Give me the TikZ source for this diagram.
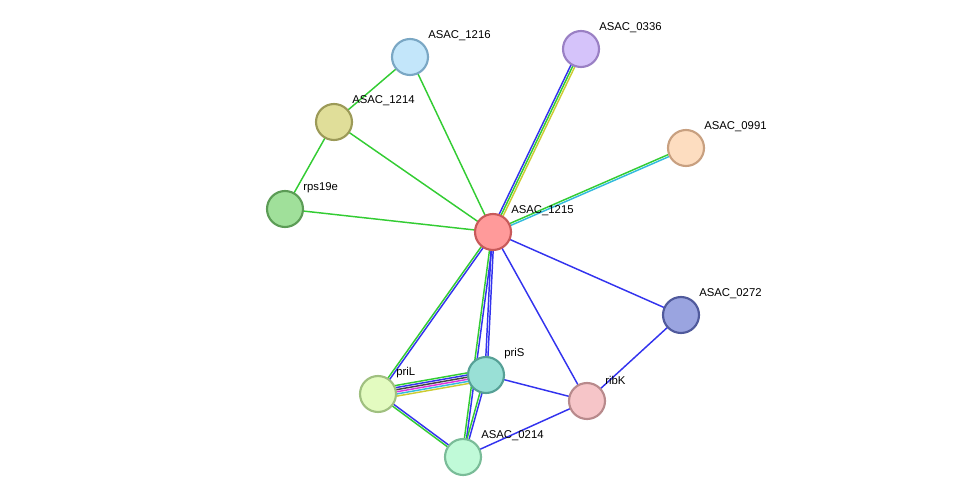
\documentclass[tikz,border=0pt]{standalone}
\usepackage{fontspec}
\setmainfont{Liberation Sans}
\usetikzlibrary{calc,backgrounds}
\definecolor{eg}{HTML}{33CC33}\definecolor{eb}{HTML}{3333EE}\definecolor{ey}{HTML}{CCCC33}
\definecolor{ec}{HTML}{33BBDD}\definecolor{em}{HTML}{DD33DD}\definecolor{ek}{HTML}{444444}
\newcommand\medge[3]{\foreach \c/\o in {#3}{\draw[\c,line width=1.1pt] ($(#1.center)!\o pt!90:(#2.center)$) -- ($(#2.center)!\o pt!-90:(#1.center)$);}}
\tikzset{prot/.style n args={2}{circle,minimum size=27pt,inner sep=0pt,line width=1.6pt,fill=#1,draw=#2},
lab/.style={anchor=west,font=\fontsize{8.5pt}{9pt}\selectfont,inner sep=0pt}}
\begin{document}
\begin{tikzpicture}[x=0.75pt,y=-0.75pt]
\useasboundingbox (0,0) rectangle (975,503);
\foreach \n/\x/\y/\f/\s in {ASAC_1215/493/232/FF9A9A/C85A5A, ASAC_1216/410/57/C3E6FA/7AA7C4, ASAC_0336/581/49/D5C3FA/9A80C4, ASAC_0991/686/148/FDDDC0/C8A080, ASAC_1214/334/122/E0DE99/9C9A58, rps19e/285/209/A0E09A/5C9C56, ASAC_0272/681/315/9AA4E0/505A9C, priS/486/375/99E0D6/56A096, priL/378/394/E3FBC0/A0C080, ribK/587/401/F6C5C8/B88A8C, ASAC_0214/463/457/C0FAD8/7ABC98}{
\definecolor{f\n}{HTML}{\f}\definecolor{s\n}{HTML}{\s}
\node[prot={f\n}{s\n}] (\n) at (\x,\y) {};
\node[lab] (l\n) at (\x+18,\y-21) {\detokenize\expandafter{\n}};
}
\begin{pgfonlayer}{background}
\medge{ASAC_1215}{ASAC_1216}{eg/0}
\medge{ASAC_1215}{ASAC_1214}{eg/0}
\medge{ASAC_1215}{rps19e}{eg/0}
\medge{ASAC_1215}{ASAC_0336}{ey/-1.6,eg/0,eb/1.6}
\medge{ASAC_1215}{ASAC_0991}{ec/-0.8,eg/0.8}
\medge{ASAC_1215}{ASAC_0272}{eb/0}
\medge{ASAC_1215}{ribK}{eb/0}
\medge{ASAC_1215}{priL}{eg/-0.8,eb/0.8}
\medge{ASAC_1215}{priS}{eb/-0.8,eb/0.8}
\medge{ASAC_1215}{ASAC_0214}{eg/-0.8,eb/0.8}
\medge{priL}{priS}{ey/-4,ec/-2.4,em/-0.8,ek/0.8,eb/2.4,eg/4}
\medge{priL}{ASAC_0214}{eg/-0.8,eb/0.8}
\medge{priS}{ASAC_0214}{eg/-0.8,eb/0.8}
\medge{priS}{ribK}{eb/0}
\medge{ASAC_0214}{ribK}{eb/0}
\medge{ribK}{ASAC_0272}{eb/0}
\medge{ASAC_1214}{ASAC_1216}{eg/0}
\medge{ASAC_1214}{rps19e}{eg/0}
\end{pgfonlayer}
\end{tikzpicture}
\end{document}
